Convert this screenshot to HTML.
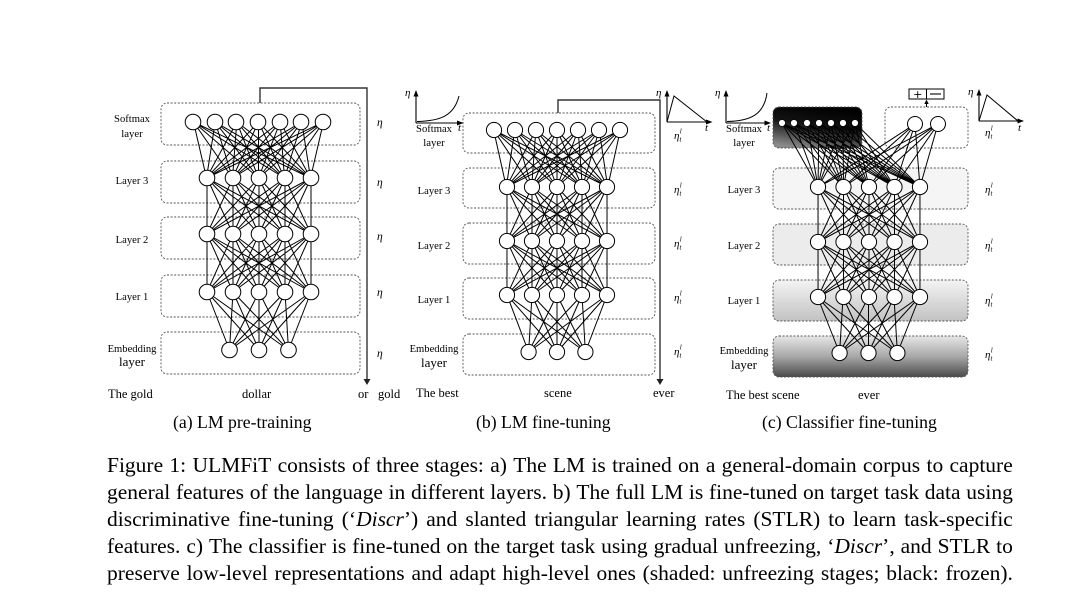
<!DOCTYPE html>
<html>
<head>
<meta charset="utf-8">
<style>
html,body{margin:0;padding:0;background:#fff;}
body{width:1080px;height:610px;position:relative;overflow:hidden;}
#cap{position:absolute;left:107px;top:452px;width:906px;font-family:"Liberation Serif",serif;font-size:21.5px;line-height:27px;color:#000;}
.ln{display:flex;justify-content:space-between;height:27px;white-space:nowrap;}
</style>
</head>
<body>
<svg width="1080" height="610" viewBox="0 0 1080 610" style="position:absolute;left:0;top:0" font-family="Liberation Serif, serif">
<defs>
<path id="k75" fill="none" stroke="#000" stroke-width="1" vector-effect="non-scaling-stroke" d="M-65 0L-52 100M-65 0L-26 100M-65 0L0 100M-65 0L26 100M-65 0L52 100M-43.3 0L-52 100M-43.3 0L-26 100M-43.3 0L0 100M-43.3 0L26 100M-43.3 0L52 100M-21.7 0L-52 100M-21.7 0L-26 100M-21.7 0L0 100M-21.7 0L26 100M-21.7 0L52 100M0 0L-52 100M0 0L-26 100M0 0L0 100M0 0L26 100M0 0L52 100M21.7 0L-52 100M21.7 0L-26 100M21.7 0L0 100M21.7 0L26 100M21.7 0L52 100M43.3 0L-52 100M43.3 0L-26 100M43.3 0L0 100M43.3 0L26 100M43.3 0L52 100M65 0L-52 100M65 0L-26 100M65 0L0 100M65 0L26 100M65 0L52 100"/>
<path id="k55" fill="none" stroke="#000" stroke-width="1" vector-effect="non-scaling-stroke" d="M-52 0L-52 100M-52 0L-26 100M-52 0L0 100M-52 0L26 100M-52 0L52 100M-26 0L-52 100M-26 0L-26 100M-26 0L0 100M-26 0L26 100M-26 0L52 100M0 0L-52 100M0 0L-26 100M0 0L0 100M0 0L26 100M0 0L52 100M26 0L-52 100M26 0L-26 100M26 0L0 100M26 0L26 100M26 0L52 100M52 0L-52 100M52 0L-26 100M52 0L0 100M52 0L26 100M52 0L52 100"/>
<path id="k53" fill="none" stroke="#000" stroke-width="1" vector-effect="non-scaling-stroke" d="M-52 0L-29.5 100M-52 0L0 100M-52 0L29.5 100M-26 0L-29.5 100M-26 0L0 100M-26 0L29.5 100M0 0L-29.5 100M0 0L0 100M0 0L29.5 100M26 0L-29.5 100M26 0L0 100M26 0L29.5 100M52 0L-29.5 100M52 0L0 100M52 0L29.5 100"/>
<linearGradient id="gblk" x1="0.65" y1="0" x2="0.3" y2="1">
<stop offset="0" stop-color="#000"/><stop offset="0.45" stop-color="#121212"/><stop offset="1" stop-color="#8a8a8a"/>
</linearGradient>
<linearGradient id="gl1" x1="0" y1="0" x2="0" y2="1">
<stop offset="0" stop-color="#f4f4f4"/><stop offset="1" stop-color="#c2c2c2"/>
</linearGradient>
<linearGradient id="gemb" x1="0" y1="0" x2="0" y2="1">
<stop offset="0" stop-color="#e6e6e6"/><stop offset="0.5" stop-color="#a8a8a8"/><stop offset="1" stop-color="#4a4a4a"/>
</linearGradient>
</defs>

<!-- ================= PANEL A ================= -->
<g fill="none" stroke="#555" stroke-width="0.9" stroke-dasharray="2 1.6">
<rect x="161" y="103" width="199" height="42" rx="6"/>
<rect x="161" y="161" width="199" height="42" rx="6"/>
<rect x="161" y="217" width="199" height="42" rx="6"/>
<rect x="161" y="275" width="199" height="42" rx="6"/>
<rect x="161" y="332" width="199" height="42" rx="6"/>
</g>
<use href="#k75" transform="translate(258.5,122) scale(1,0.56)"/>
<use href="#k55" transform="translate(259,178) scale(1,0.56)"/>
<use href="#k55" transform="translate(259,234) scale(1,0.58)"/>
<use href="#k53" transform="translate(259,292) scale(1,0.58)"/>
<g fill="#fff" stroke="#000" stroke-width="1">
<circle cx="193" cy="122" r="7.8"/><circle cx="215" cy="122" r="7.8"/><circle cx="236" cy="122" r="7.8"/><circle cx="258" cy="122" r="7.8"/><circle cx="280" cy="122" r="7.8"/><circle cx="301" cy="122" r="7.8"/><circle cx="323" cy="122" r="7.8"/>
<circle cx="207" cy="178" r="7.8"/><circle cx="233" cy="178" r="7.8"/><circle cx="259" cy="178" r="7.8"/><circle cx="285" cy="178" r="7.8"/><circle cx="311" cy="178" r="7.8"/>
<circle cx="207" cy="234" r="7.8"/><circle cx="233" cy="234" r="7.8"/><circle cx="259" cy="234" r="7.8"/><circle cx="285" cy="234" r="7.8"/><circle cx="311" cy="234" r="7.8"/>
<circle cx="207" cy="292" r="7.8"/><circle cx="233" cy="292" r="7.8"/><circle cx="259" cy="292" r="7.8"/><circle cx="285" cy="292" r="7.8"/><circle cx="311" cy="292" r="7.8"/>
<circle cx="229.5" cy="350" r="7.8"/><circle cx="259" cy="350" r="7.8"/><circle cx="288.5" cy="350" r="7.8"/>
</g>
<path d="M260 103V88H367V380" fill="none" stroke="#333" stroke-width="1.4"/>
<polygon points="363.5,379 370.5,379 367,385" fill="#222"/>
<g font-size="10.6" text-anchor="middle" fill="#000">
<text x="132" y="122">Softmax</text>
<text x="132" y="137" font-size="10.8">layer</text>
<text x="132" y="184">Layer 3</text>
<text x="132" y="243">Layer 2</text>
<text x="132" y="300">Layer 1</text>
<text x="132" y="352">Embedding</text>
<text x="132" y="366" font-size="13">layer</text>
</g>
<g font-size="11.5" font-style="italic" fill="#000">
<text x="377" y="126">η</text>
<text x="377" y="186">η</text>
<text x="377" y="240">η</text>
<text x="377" y="296">η</text>
<text x="377" y="357">η</text>
</g>
<g font-size="12.5" fill="#000">
<text x="108" y="398">The gold</text>
<text x="242" y="398">dollar</text>
<text x="358" y="398">or</text>
<text x="378" y="398">gold</text>
</g>
<text x="173" y="428" font-size="17.7" fill="#000">(a) LM pre-training</text>

<!-- ================= PANEL B ================= -->
<g fill="none" stroke="#555" stroke-width="0.9" stroke-dasharray="2 1.6">
<rect x="463" y="113" width="192" height="40" rx="6"/>
<rect x="463" y="168" width="192" height="40" rx="6"/>
<rect x="463" y="223" width="192" height="41" rx="6"/>
<rect x="463" y="278" width="192" height="41" rx="6"/>
<rect x="463" y="334" width="192" height="41" rx="6"/>
</g>
<use href="#k75" transform="translate(557,130) scale(0.975,0.57)"/>
<use href="#k55" transform="translate(557,187) scale(0.962,0.54)"/>
<use href="#k55" transform="translate(557,241) scale(0.962,0.54)"/>
<use href="#k53" transform="translate(557,295) scale(0.962,0.57)"/>
<g fill="#fff" stroke="#000" stroke-width="1">
<circle cx="494" cy="130" r="7.6"/><circle cx="515" cy="130" r="7.6"/><circle cx="536" cy="130" r="7.6"/><circle cx="557" cy="130" r="7.6"/><circle cx="578" cy="130" r="7.6"/><circle cx="599" cy="130" r="7.6"/><circle cx="620" cy="130" r="7.6"/>
<circle cx="507" cy="187" r="7.6"/><circle cx="532" cy="187" r="7.6"/><circle cx="557" cy="187" r="7.6"/><circle cx="582" cy="187" r="7.6"/><circle cx="607" cy="187" r="7.6"/>
<circle cx="507" cy="241" r="7.6"/><circle cx="532" cy="241" r="7.6"/><circle cx="557" cy="241" r="7.6"/><circle cx="582" cy="241" r="7.6"/><circle cx="607" cy="241" r="7.6"/>
<circle cx="507" cy="295" r="7.6"/><circle cx="532" cy="295" r="7.6"/><circle cx="557" cy="295" r="7.6"/><circle cx="582" cy="295" r="7.6"/><circle cx="607" cy="295" r="7.6"/>
<circle cx="528.6" cy="352" r="7.6"/><circle cx="557" cy="352" r="7.6"/><circle cx="585.4" cy="352" r="7.6"/>
</g>
<path d="M558 113V100H660V380" fill="none" stroke="#333" stroke-width="1.4"/>
<polygon points="656.5,379 663.5,379 660,385" fill="#222"/>
<!-- left inset B -->
<path d="M416 123V95M416 123H459" fill="none" stroke="#000" stroke-width="1.1"/>
<polygon points="416,90 413.5,96.5 418.5,96.5" fill="#000"/>
<polygon points="463.5,123 457,120.5 457,125.5" fill="#000"/>
<path d="M417 121.5C440 121 454 116 459 96" fill="none" stroke="#000" stroke-width="1"/>
<text x="405" y="96" font-size="11" font-style="italic">η</text>
<text x="458" y="131" font-size="11" font-style="italic">t</text>
<!-- right inset B -->
<path d="M667 122V95M667 122H708" fill="none" stroke="#000" stroke-width="1.1"/>
<polygon points="667,90 664.5,96.5 669.5,96.5" fill="#000"/>
<polygon points="712.5,122 706,119.5 706,124.5" fill="#000"/>
<path d="M667 122L674 96L707 122" fill="none" stroke="#000" stroke-width="1"/>
<text x="656" y="96" font-size="11" font-style="italic">η</text>
<text x="705" y="131" font-size="11" font-style="italic">t</text>
<g font-size="10.6" text-anchor="middle" fill="#000">
<text x="434" y="132">Softmax</text>
<text x="434" y="146" font-size="10.8">layer</text>
<text x="434" y="194">Layer 3</text>
<text x="434" y="249">Layer 2</text>
<text x="434" y="303">Layer 1</text>
<text x="434" y="352">Embedding</text>
<text x="434" y="367" font-size="13">layer</text>
</g>
<g font-size="11" font-style="italic" fill="#000">
<text x="674" y="139">η<tspan font-size="7" dx="0.3" dy="-5.5">l</tspan><tspan font-size="7" dx="-2.2" dy="8">t</tspan></text>
<text x="674" y="193">η<tspan font-size="7" dx="0.3" dy="-5.5">l</tspan><tspan font-size="7" dx="-2.2" dy="8">t</tspan></text>
<text x="674" y="247">η<tspan font-size="7" dx="0.3" dy="-5.5">l</tspan><tspan font-size="7" dx="-2.2" dy="8">t</tspan></text>
<text x="674" y="301">η<tspan font-size="7" dx="0.3" dy="-5.5">l</tspan><tspan font-size="7" dx="-2.2" dy="8">t</tspan></text>
<text x="674" y="355">η<tspan font-size="7" dx="0.3" dy="-5.5">l</tspan><tspan font-size="7" dx="-2.2" dy="8">t</tspan></text>
</g>
<g font-size="12.5" fill="#000">
<text x="416" y="397">The best</text>
<text x="544" y="397">scene</text>
<text x="653" y="397">ever</text>
</g>
<text x="476" y="428" font-size="17.7" fill="#000">(b) LM fine-tuning</text>

<!-- ================= PANEL C ================= -->
<rect x="773" y="107" width="89" height="41" rx="6" fill="url(#gblk)" stroke="#555" stroke-width="0.9" stroke-dasharray="2 1.6"/>
<g stroke="#555" stroke-width="0.9" stroke-dasharray="2 1.6">
<rect x="885" y="107" width="83" height="41" rx="6" fill="none"/>
<rect x="773" y="168" width="195" height="41" rx="6" fill="#f5f5f5"/>
<rect x="773" y="224" width="195" height="41" rx="6" fill="#ececec"/>
<rect x="773" y="280" width="195" height="41" rx="6" fill="url(#gl1)"/>
<rect x="773" y="336" width="195" height="41" rx="6" fill="url(#gemb)"/>
</g>
<use href="#k55" transform="translate(869,187) scale(0.98,0.55)"/>
<use href="#k55" transform="translate(869,242) scale(0.98,0.55)"/>
<use href="#k53" transform="translate(868.5,297) scale(0.98,0.56)"/>
<path fill="none" stroke="#000" stroke-width="1" d="M782 123L818 187M782 123L843.5 187M782 123L869 187M782 123L894.5 187M782 123L920 187M794 123L818 187M794 123L843.5 187M794 123L869 187M794 123L894.5 187M794 123L920 187M807 123L818 187M807 123L843.5 187M807 123L869 187M807 123L894.5 187M807 123L920 187M819 123L818 187M819 123L843.5 187M819 123L869 187M819 123L894.5 187M819 123L920 187M831 123L818 187M831 123L843.5 187M831 123L869 187M831 123L894.5 187M831 123L920 187M843 123L818 187M843 123L843.5 187M843 123L869 187M843 123L894.5 187M843 123L920 187M855 123L818 187M855 123L843.5 187M855 123L869 187M855 123L894.5 187M855 123L920 187M915 124L818 187M915 124L843.5 187M915 124L869 187M915 124L894.5 187M915 124L920 187M938 124L818 187M938 124L843.5 187M938 124L869 187M938 124L894.5 187M938 124L920 187"/>
<g fill="#fff" stroke="#000" stroke-width="0.6">
<circle cx="782" cy="123" r="3.4"/><circle cx="794" cy="123" r="3.4"/><circle cx="807" cy="123" r="3.4"/><circle cx="819" cy="123" r="3.4"/><circle cx="831" cy="123" r="3.4"/><circle cx="843" cy="123" r="3.4"/><circle cx="855" cy="123" r="3.4"/>
</g>
<g fill="#fff" stroke="#000" stroke-width="1">
<circle cx="915" cy="124" r="7.5"/><circle cx="938" cy="124" r="7.5"/>
<circle cx="818" cy="187" r="7.6"/><circle cx="843.5" cy="187" r="7.6"/><circle cx="869" cy="187" r="7.6"/><circle cx="894.5" cy="187" r="7.6"/><circle cx="920" cy="187" r="7.6"/>
<circle cx="818" cy="242" r="7.6"/><circle cx="843.5" cy="242" r="7.6"/><circle cx="869" cy="242" r="7.6"/><circle cx="894.5" cy="242" r="7.6"/><circle cx="920" cy="242" r="7.6"/>
<circle cx="818" cy="297" r="7.6"/><circle cx="843.5" cy="297" r="7.6"/><circle cx="869" cy="297" r="7.6"/><circle cx="894.5" cy="297" r="7.6"/><circle cx="920" cy="297" r="7.6"/>
<circle cx="839.6" cy="353" r="7.6"/><circle cx="868.5" cy="353" r="7.6"/><circle cx="897.4" cy="353" r="7.6"/>
</g>
<!-- +|- box -->
<rect x="909" y="89" width="35" height="10" fill="#fff" stroke="#000" stroke-width="1"/>
<line x1="926.5" y1="89" x2="926.5" y2="99" stroke="#000" stroke-width="1"/>
<text x="917.7" y="97.8" font-size="11" text-anchor="middle" font-family="DejaVu Sans, sans-serif">+</text>
<line x1="930" y1="94" x2="941" y2="94" stroke="#000" stroke-width="1.1"/>
<line x1="926.5" y1="107" x2="926.5" y2="103" stroke="#000" stroke-width="1"/>
<polygon points="926.5,99.5 924.3,104 928.7,104" fill="#000"/>
<!-- left inset C -->
<path d="M726 123V95M726 123H766" fill="none" stroke="#000" stroke-width="1.1"/>
<polygon points="726,90 723.5,96.5 728.5,96.5" fill="#000"/>
<polygon points="771,123 764.5,120.5 764.5,125.5" fill="#000"/>
<path d="M727 121.5C750 121 764 115 767 93" fill="none" stroke="#000" stroke-width="1"/>
<text x="715" y="96" font-size="11" font-style="italic">η</text>
<text x="767" y="131" font-size="11" font-style="italic">t</text>
<!-- right inset C -->
<path d="M979 121V95M979 121H1019" fill="none" stroke="#000" stroke-width="1.1"/>
<polygon points="979,89 976.5,95.5 981.5,95.5" fill="#000"/>
<polygon points="1024,121 1017.5,118.5 1017.5,123.5" fill="#000"/>
<path d="M979 121L987 95L1018 121" fill="none" stroke="#000" stroke-width="1"/>
<text x="968" y="95" font-size="11" font-style="italic">η</text>
<text x="1018" y="131" font-size="11" font-style="italic">t</text>
<g font-size="10.6" text-anchor="middle" fill="#000">
<text x="744" y="132">Softmax</text>
<text x="744" y="146" font-size="10.8">layer</text>
<text x="744" y="193">Layer 3</text>
<text x="744" y="249">Layer 2</text>
<text x="744" y="304">Layer 1</text>
<text x="744" y="354">Embedding</text>
<text x="744" y="369" font-size="13">layer</text>
</g>
<g font-size="11" font-style="italic" fill="#000">
<text x="985" y="136">η<tspan font-size="7" dx="0.3" dy="-5.5">l</tspan><tspan font-size="7" dx="-2.2" dy="8">t</tspan></text>
<text x="985" y="193">η<tspan font-size="7" dx="0.3" dy="-5.5">l</tspan><tspan font-size="7" dx="-2.2" dy="8">t</tspan></text>
<text x="985" y="249">η<tspan font-size="7" dx="0.3" dy="-5.5">l</tspan><tspan font-size="7" dx="-2.2" dy="8">t</tspan></text>
<text x="985" y="304">η<tspan font-size="7" dx="0.3" dy="-5.5">l</tspan><tspan font-size="7" dx="-2.2" dy="8">t</tspan></text>
<text x="985" y="358">η<tspan font-size="7" dx="0.3" dy="-5.5">l</tspan><tspan font-size="7" dx="-2.2" dy="8">t</tspan></text>
</g>
<g font-size="12.5" fill="#000">
<text x="726" y="399">The best scene</text>
<text x="858" y="399">ever</text>
</g>
<text x="762" y="428" font-size="17.7" fill="#000">(c) Classifier fine-tuning</text>
</svg>

<div id="cap">
<div class="ln"><span>Figure</span><span>1:</span><span>ULMFiT</span><span>consists</span><span>of</span><span>three</span><span>stages:</span><span>a)</span><span>The</span><span>LM</span><span>is</span><span>trained</span><span>on</span><span>a</span><span>general-domain</span><span>corpus</span><span>to</span><span>capture</span></div>
<div class="ln"><span>general</span><span>features</span><span>of</span><span>the</span><span>language</span><span>in</span><span>different</span><span>layers.</span><span>b)</span><span>The</span><span>full</span><span>LM</span><span>is</span><span>fine-tuned</span><span>on</span><span>target</span><span>task</span><span>data</span><span>using</span></div>
<div class="ln"><span>discriminative</span><span>fine-tuning</span><span>(‘<i>Discr</i>’)</span><span>and</span><span>slanted</span><span>triangular</span><span>learning</span><span>rates</span><span>(STLR)</span><span>to</span><span>learn</span><span>task-specific</span></div>
<div class="ln"><span>features.</span><span>c)</span><span>The</span><span>classifier</span><span>is</span><span>fine-tuned</span><span>on</span><span>the</span><span>target</span><span>task</span><span>using</span><span>gradual</span><span>unfreezing,</span><span>‘<i>Discr</i>’,</span><span>and</span><span>STLR</span><span>to</span></div>
<div class="ln"><span>preserve</span><span>low-level</span><span>representations</span><span>and</span><span>adapt</span><span>high-level</span><span>ones</span><span>(shaded:</span><span>unfreezing</span><span>stages;</span><span>black:</span><span>frozen).</span></div>
</div>
</body>
</html>
